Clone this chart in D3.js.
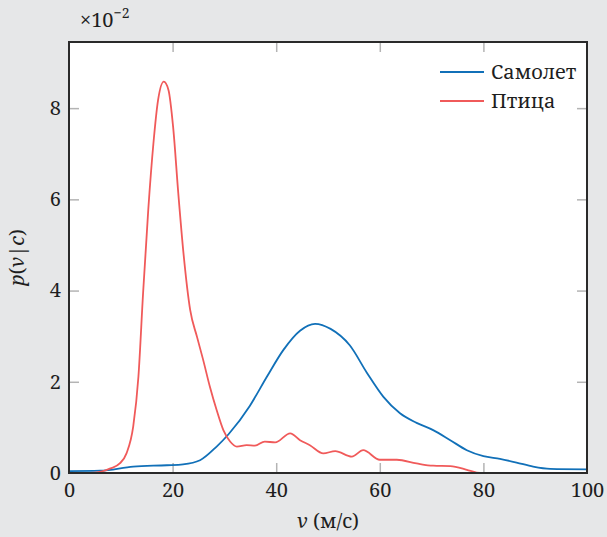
<!DOCTYPE html>
<html>
<head>
<meta charset="utf-8">
<script src="https://cdn.jsdelivr.net/npm/d3@7"></script>
<style>
  body { margin: 0; background: #e6e7e8; }
</style>
</head>
<body>
<div id="chart"></div>
<script>
// speeds (m/s) and densities (x 1e-2)
var planeX = [0, 6, 12.4, 18.9, 22, 25.3, 28.5, 30.8, 34.9, 38.2, 41.4, 44.6, 47.5, 50.5, 54.2, 57.5, 60.7, 63.9, 67.1, 70.3, 73.6, 76.8, 80, 83.2, 86.4, 89.6, 92.9, 100]
var planeY = [0.04, 0.05, 0.14, 0.17, 0.19, 0.28, 0.58, 0.85, 1.47, 2.11, 2.70, 3.12, 3.27, 3.16, 2.80, 2.20, 1.67, 1.31, 1.10, 0.94, 0.72, 0.50, 0.37, 0.31, 0.23, 0.14, 0.09, 0.08]

var birdX = [0, 5, 8, 9.8, 11.1, 12.4, 13.4, 14.3, 15.3, 16.3, 17.2, 18.3, 19.2, 20.1, 21.1, 22.1, 23.4, 24.7, 25.9, 27.2, 28.5, 29.8, 31.1, 32.4, 34.3, 35.9, 37.8, 39.8, 42.7, 44.6, 46.5, 49.1, 51.4, 54.6, 56.8, 60, 63.3, 67.1, 70.3, 73.6, 76.8, 78.7, 80, 100]
var birdY = [0, 0.01, 0.1, 0.21, 0.43, 1.02, 2.11, 3.94, 5.77, 7.23, 8.18, 8.58, 8.40, 7.59, 6.13, 4.82, 3.57, 2.99, 2.48, 1.89, 1.38, 0.94, 0.69, 0.58, 0.61, 0.60, 0.69, 0.67, 0.87, 0.72, 0.61, 0.43, 0.48, 0.36, 0.50, 0.29, 0.29, 0.21, 0.16, 0.15, 0.07, 0.01, 0, 0]

var xTicks = [0, 20, 40, 60, 80, 100]
var yTicks = [0, 2, 4, 6, 8]
var seriesNames = ["Самолет", "Птица"]
var colors = ["#1170b8", "#f05a5a"]

var FONT = "'Noto Serif', 'Liberation Serif', serif"
var FS = 20

var W = 607, H = 537
var margin = {top: 42, right: 20, bottom: 64, left: 69}
var width = W - margin.left - margin.right,
    height = H - margin.top - margin.bottom

var svg = d3.select("#chart").append("svg")
    .attr("width", W)
    .attr("height", H)
    .style("font-family", FONT)

var g = svg.append("g")
    .attr("transform", "translate(" + margin.left + "," + margin.top + ")")

var x = d3.scaleLinear().domain([0, 100]).range([0, width])
var y = d3.scaleLinear().domain([0, 9.45]).range([height, 0])

g.append("rect")
    .attr("width", width)
    .attr("height", height)
    .attr("fill", "#fff")

// inward ticks on all four sides
var tickLen = 10
function ticks(axis, offset) {
    var a = g.append("g").attr("transform", offset).call(axis)
    a.attr("font-family", null).attr("font-size", null)
    a.select(".domain").remove()
    a.selectAll(".tick line").attr("stroke", "#b4b4b4").attr("stroke-width", 1.5)
    a.selectAll(".tick text")
        .style("font-family", FONT)
        .attr("font-size", FS)
        .attr("fill", "#1e1e1e")
    a.selectAll(".tick").filter(function(d) { return d === 0 || d === 100 }).select("line").remove()
    return a
}
ticks(d3.axisBottom(x).tickValues(xTicks).tickSizeInner(-tickLen), "translate(0," + height + ")")
    .selectAll(".tick text").attr("y", 24).attr("dy", 0)
ticks(d3.axisTop(x).tickValues(xTicks).tickSizeInner(-tickLen).tickFormat(""), "")
ticks(d3.axisLeft(y).tickValues(yTicks).tickSizeInner(-tickLen).tickPadding(8), "")
ticks(d3.axisRight(y).tickValues(yTicks).tickSizeInner(-tickLen).tickFormat(""), "translate(" + width + ",0)")

var line = d3.line()
    .x(function(d) { return x(d[0]) })
    .y(function(d) { return y(d[1]) })
    .curve(d3.curveMonotoneX)

var series = [d3.zip(planeX, planeY), d3.zip(birdX, birdY)]

g.selectAll(".series")
    .data(series)
    .enter().append("path")
    .attr("class", "series")
    .attr("d", line)
    .attr("fill", "none")
    .attr("stroke", function(d, i) { return colors[i] })
    .attr("stroke-width", 1.8)

g.append("rect")
    .attr("width", width)
    .attr("height", height)
    .attr("fill", "none")
    .attr("stroke", "#2a2a2a")
    .attr("stroke-width", 2)

// legend
var legend = g.selectAll(".legend")
    .data(seriesNames)
    .enter().append("g")
    .attr("class", "legend")
    .attr("transform", function(d, i) { return "translate(" + (width - 147) + "," + (30 + i * 29) + ")" })

legend.append("line")
    .attr("x1", 0).attr("x2", 44)
    .attr("stroke", function(d, i) { return colors[i] })
    .attr("stroke-width", 1.8)

legend.append("text")
    .attr("x", 51)
    .attr("dy", "0.35em")
    .attr("font-size", FS)
    .attr("fill", "#1e1e1e")
    .style("font-family", FONT)
    .text(function(d) { return d })

// scale factor
var sf = svg.append("text")
    .attr("x", 80).attr("y", 27)
    .attr("font-size", FS)
    .attr("fill", "#1e1e1e")
    .style("font-family", FONT)
sf.append("tspan").text("×10")
sf.append("tspan").attr("dy", -9).attr("font-size", 14).text("−2")

// axis titles
var xl = svg.append("text")
    .attr("x", margin.left + width / 2)
    .attr("y", 528)
    .attr("text-anchor", "middle")
    .attr("font-size", FS)
    .attr("fill", "#1e1e1e")
    .style("font-family", FONT)
xl.append("tspan").attr("font-style", "italic").text("v")
xl.append("tspan").text(" (м/с)")

var ylab = svg.append("text")
    .attr("transform", "translate(24," + (margin.top + height / 2) + ") rotate(-90)")
    .attr("text-anchor", "middle")
    .attr("font-size", FS)
    .attr("fill", "#1e1e1e")
    .style("font-family", FONT)
ylab.append("tspan").attr("font-style", "italic").text("p")
ylab.append("tspan").text("(")
ylab.append("tspan").attr("font-style", "italic").text("v")
ylab.append("tspan").text("|")
ylab.append("tspan").attr("font-style", "italic").text("c")
ylab.append("tspan").text(")")
</script>
</body>
</html>
